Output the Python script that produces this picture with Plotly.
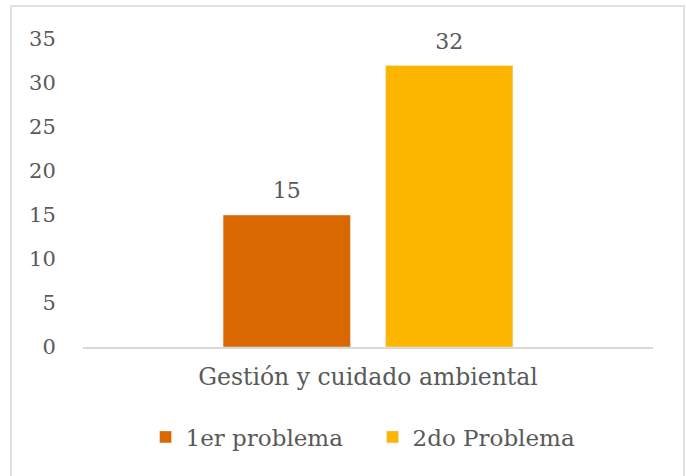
import plotly.graph_objects as go

categories = ["Gestión y cuidado ambiental"]
series_names = ["1er problema", "2do Problema"]
series_values = [[15], [32]]
colors = ["#DA6800", "#FDB600"]
y_ticks = [0, 5, 10, 15, 20, 25, 30, 35]

FONT = "DejaVu Serif"
GRAY = "#595959"

fig = go.Figure()
for name, vals, col in zip(series_names, series_values, colors):
    fig.add_trace(go.Bar(
        x=categories, y=vals, name=name, marker_color=col,
        text=[str(v) for v in vals], textposition="outside",
        texttemplate="<span style='font-size:22px'>%{text}</span><br>&nbsp;",
        textfont=dict(family=FONT, size=9, color=GRAY),
        cliponaxis=False,
    ))

fig.update_layout(
    width=686, height=476,
    margin=dict(l=83, r=33, t=39, b=129),
    paper_bgcolor="white", plot_bgcolor="white",
    barmode="group", bargap=0.43, bargroupgap=0.216,
    uniformtext=dict(minsize=1, mode="show"),
    font=dict(family=FONT, color=GRAY),
    showlegend=True,
    legend=dict(orientation="h", x=0.508, xanchor="center", y=-0.292, yanchor="middle",
                font=dict(family=FONT, size=23, color=GRAY), itemwidth=30,
                entrywidth=182, entrywidthmode="pixels",
                traceorder="normal"),
    xaxis=dict(showgrid=False, showline=True, linecolor="#D9D9D9", linewidth=1.5,
               tickfont=dict(family=FONT, size=23.5, color=GRAY), ticks="outside",
               ticklen=8, tickcolor="rgba(0,0,0,0)"),
    yaxis=dict(range=[0, 35], tickvals=y_ticks, showgrid=False, zeroline=False,
               showline=False, tickfont=dict(family=FONT, size=21, color=GRAY),
               ticks="outside", ticklen=22, tickcolor="rgba(0,0,0,0)"),
    shapes=[dict(type="rect", xref="paper", yref="paper",
                 x0=(11 - 83) / 570, x1=(684 - 83) / 570,
                 y0=-1.0, y1=(347 - 6) / 308,
                 line=dict(color="#D9D9D9", width=1.5), layer="below")],
)

fig.write_html("out.html", config={"displayModeBar": False},
               post_script="document.body.style.margin='0';")
